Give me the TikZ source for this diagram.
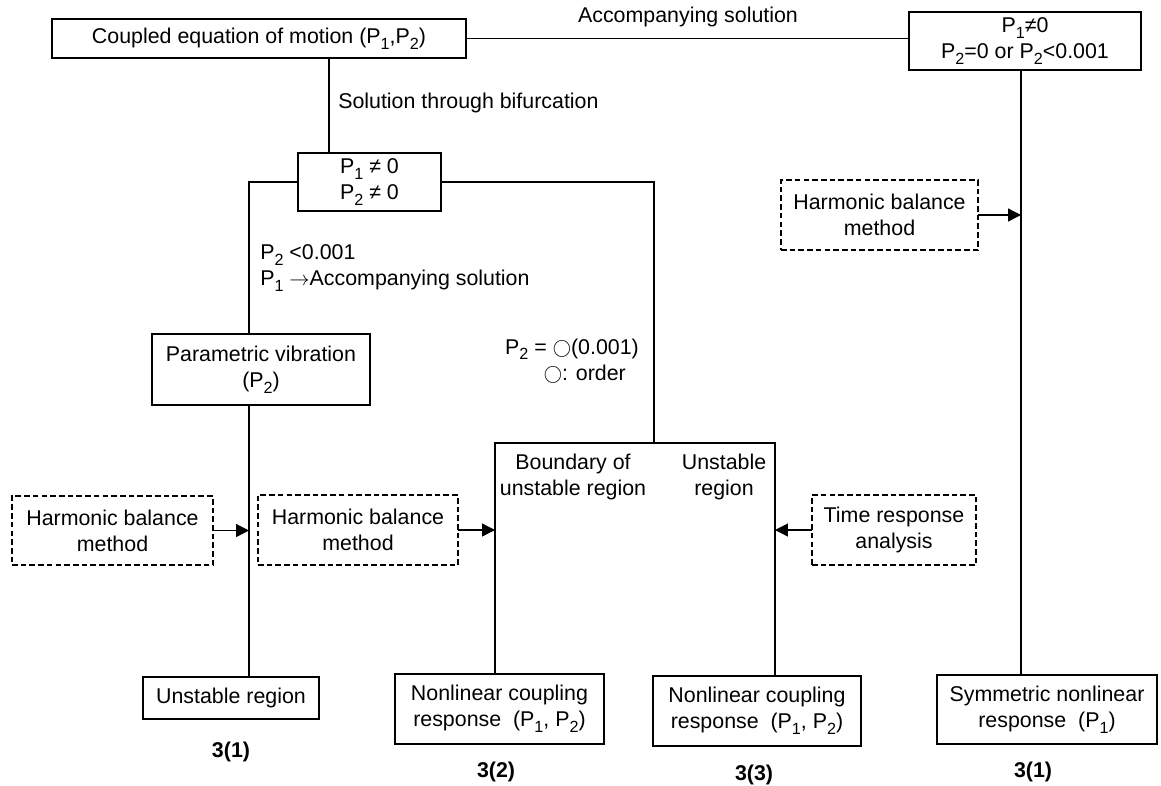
\documentclass[tikz,border=0pt]{standalone}
\usepackage{fontspec}
\setmainfont{Liberation Sans}
\usetikzlibrary{positioning,arrows.meta}
\newcommand{\Psub}[1]{P\raisebox{-0.5ex}{\fontsize{11.5pt}{11.5pt}\selectfont #1}}
\newcommand{\ordsym}{\raisebox{0.05ex}{\scalebox{0.9}{$\bigcirc$}}}
\newcommand{\txtfont}{\fontsize{15.2pt}{18.5pt}\selectfont}
\tikzset{
  procbox/.style={draw, line width=0.9pt, align=center, inner sep=0pt, outer sep=0pt, font=\txtfont},
  dashbox/.style={procbox, line width=0.8pt, dash pattern=on 4pt off 2.2pt},
  linkline/.style={line width=0.9pt},
  feedarr/.style={line width=0.9pt, -{Triangle[length=3.2mm, width=3.2mm]}},
  plaintext/.style={inner sep=0pt, align=center, font=\txtfont},
  casetag/.style={inner sep=0pt, font=\txtfont\bfseries}
}

\begin{document}
\begin{tikzpicture}[x=0.025cm, y=-0.025cm]
\useasboundingbox (0,0) rectangle (1161,785);
% main boxes
\node[procbox, minimum width=10.35cm, minimum height=0.975cm] (eq) at (259,38.5) {Coupled equation of motion (\Psub{1},\Psub{2})};
\node[procbox, minimum width=5.8cm, minimum height=1.45cm] (acc) at (1025,41) {\Psub{1}≠0\\\Psub{2}=0 or \Psub{2}<0.001};
\node[procbox, minimum width=3.575cm, minimum height=1.45cm] (pnz) at (369.5,182) {\Psub{1} ≠ 0\\\Psub{2} ≠ 0};
\node[procbox, minimum width=5.45cm, minimum height=1.775cm] (par) at (261,369.5) {Parametric vibration\\(\Psub{2})};
\node[procbox, minimum width=4.4cm, minimum height=1.05cm] (unst) at (231,698) {Unstable region};
\node[procbox, minimum width=5.225cm, minimum height=1.75cm] (nc1) at (499.5,709) {Nonlinear coupling\\response~~(\Psub{1}, \Psub{2})};
\node[procbox, minimum width=5.2cm, minimum height=1.75cm] (nc2) at (757,711) {Nonlinear coupling\\response~~(\Psub{1}, \Psub{2})};
\node[procbox, minimum width=5.5cm, minimum height=1.725cm] (sym) at (1047,709.5) {Symmetric nonlinear\\response~~(\Psub{1})};

% method boxes
\node[dashbox, minimum width=5.025cm, minimum height=1.725cm] (hb1) at (112.5,530.5) {Harmonic balance\\method};
\node[dashbox, minimum width=5.0cm, minimum height=1.75cm] (hb2) at (358,530) {Harmonic balance\\method};
\node[dashbox, minimum width=4.1cm, minimum height=1.75cm] (tra) at (894,530) {Time response\\analysis};
\node[dashbox, minimum width=4.925cm, minimum height=1.75cm] (hb3) at (879.5,215) {Harmonic balance\\method};

% region texts
\node[plaintext] (bnd) at (573,477) {Boundary of\\unstable region};
\node[plaintext] (ureg) at (724,477) {Unstable\\region};

% labels
\node[plaintext] (lacc) at (688,17) {Accompanying solution};
\node[plaintext, anchor=west] (lbif) at (338,103) {Solution through bifurcation};
\node[plaintext, anchor=west, align=left] (lsmall) at (260,268) {\Psub{2} <0.001\\\Psub{1} $\rightarrow$Accompanying solution};
\node[plaintext] (lord) at (572,361) {\Psub{2} = \ordsym(0.001)\\\hspace*{1.2em}\ordsym: order};

% case tags
\node[casetag] (t1) at (231,752) {3(1)};
\node[casetag] (t2) at (496,772) {3(2)};
\node[casetag] (t3) at (754,775) {3(3)};
\node[casetag] (t4) at (1033,772) {3(1)};

% junction coordinates
\coordinate (bif) at (329,0);
\coordinate (lft) at (249,0);
\coordinate (rgt) at (654,443);
\coordinate (regL) at (495,443);
\coordinate (regR) at (775,443);
\coordinate (sx) at (1021,0);

% connectors
\draw[linkline] (eq.east) -- (eq.east -| acc.west);
\draw[linkline] (bif |- eq.south) -- (bif |- pnz.north);
\draw[linkline] (pnz.west) -| (lft |- par.north);
\draw[linkline] (lft |- par.south) -- (lft |- unst.north);
\draw[linkline] (pnz.east) -| (rgt);
\draw[linkline] (regL |- nc1.north) -- (regL) -- (regR) -- (regR |- nc2.north);
\draw[linkline] (sx |- acc.south) -- (sx |- sym.north);

% method arrows
\draw[feedarr] (hb1.east) -- (lft |- hb1.east);
\draw[feedarr] (hb2.east) -- (regL |- hb2.east);
\draw[feedarr] (tra.west) -- (regR |- tra.west);
\draw[feedarr] (hb3.east) -- (sx |- hb3.east);
\end{tikzpicture}
\end{document}
